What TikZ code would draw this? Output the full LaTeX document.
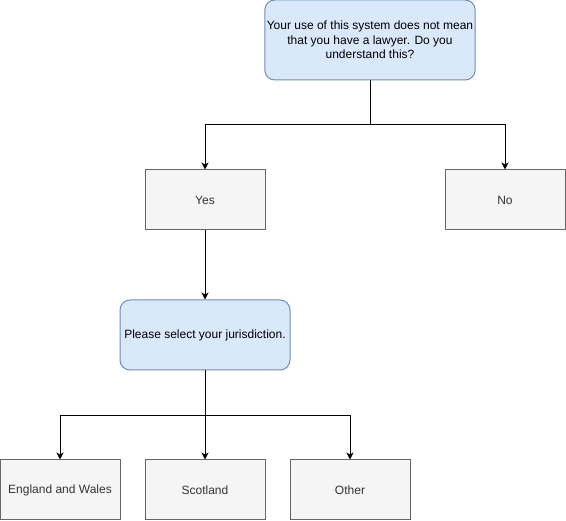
\documentclass[tikz,border=0pt]{standalone}
\usepackage{fontspec}
\setmainfont{Liberation Sans}
\usetikzlibrary{arrows.meta}
\definecolor{bluefill}{HTML}{DAE8FC}
\definecolor{bluedraw}{HTML}{6C8EBF}
\definecolor{greyfill}{HTML}{F5F5F5}
\definecolor{greydraw}{HTML}{666666}
\tikzset{
  qbox/.style={draw=bluedraw, fill=bluefill, rounded corners=10pt, line width=1pt, inner sep=2pt, align=center, font=\fontsize{12}{14.5}\selectfont},
  abox/.style={draw=greydraw, fill=greyfill, line width=1pt, minimum width=120pt, minimum height=60pt, inner sep=0pt, align=center, text=black!80, font=\fontsize{12}{14.5}\selectfont},
  conn/.style={draw=black, line width=1pt},
  arr/.style={conn, -{Stealth[length=7pt,width=7pt,inset=2pt]}}
}
\begin{document}
\begin{tikzpicture}[x=1pt,y=-1pt]
\useasboundingbox (0,0) rectangle (566,521);
\node[qbox, minimum width=210pt, minimum height=80pt] (top) at (370,40) {Your use of this system does not mean\\that you have a lawyer. Do you\\understand this?};
\node[abox] (yes) at (205,200) {Yes};
\node[abox] (no) at (505,200) {No};
\node[qbox, minimum width=170pt, minimum height=70pt] (sel) at (205,335) {Please select your jurisdiction.};
\node[abox] (eng) at (60,490) {England and Wales};
\node[abox] (sco) at (205,490) {Scotland};
\node[abox] (oth) at (350,490) {Other};
\coordinate (j1) at (370,125);
\coordinate (j2) at (205,415.5);
\draw[conn] (top.south) -- (j1);
\draw[arr] (j1) -| (yes.north);
\draw[arr] (j1) -| (no.north);
\draw[arr] (yes.south) -- (sel.north);
\draw[conn] (sel.south) -- (j2);
\draw[arr] (j2) -| (eng.north);
\draw[arr] (j2) -- (sco.north);
\draw[arr] (j2) -| (oth.north);
\end{tikzpicture}
\end{document}
